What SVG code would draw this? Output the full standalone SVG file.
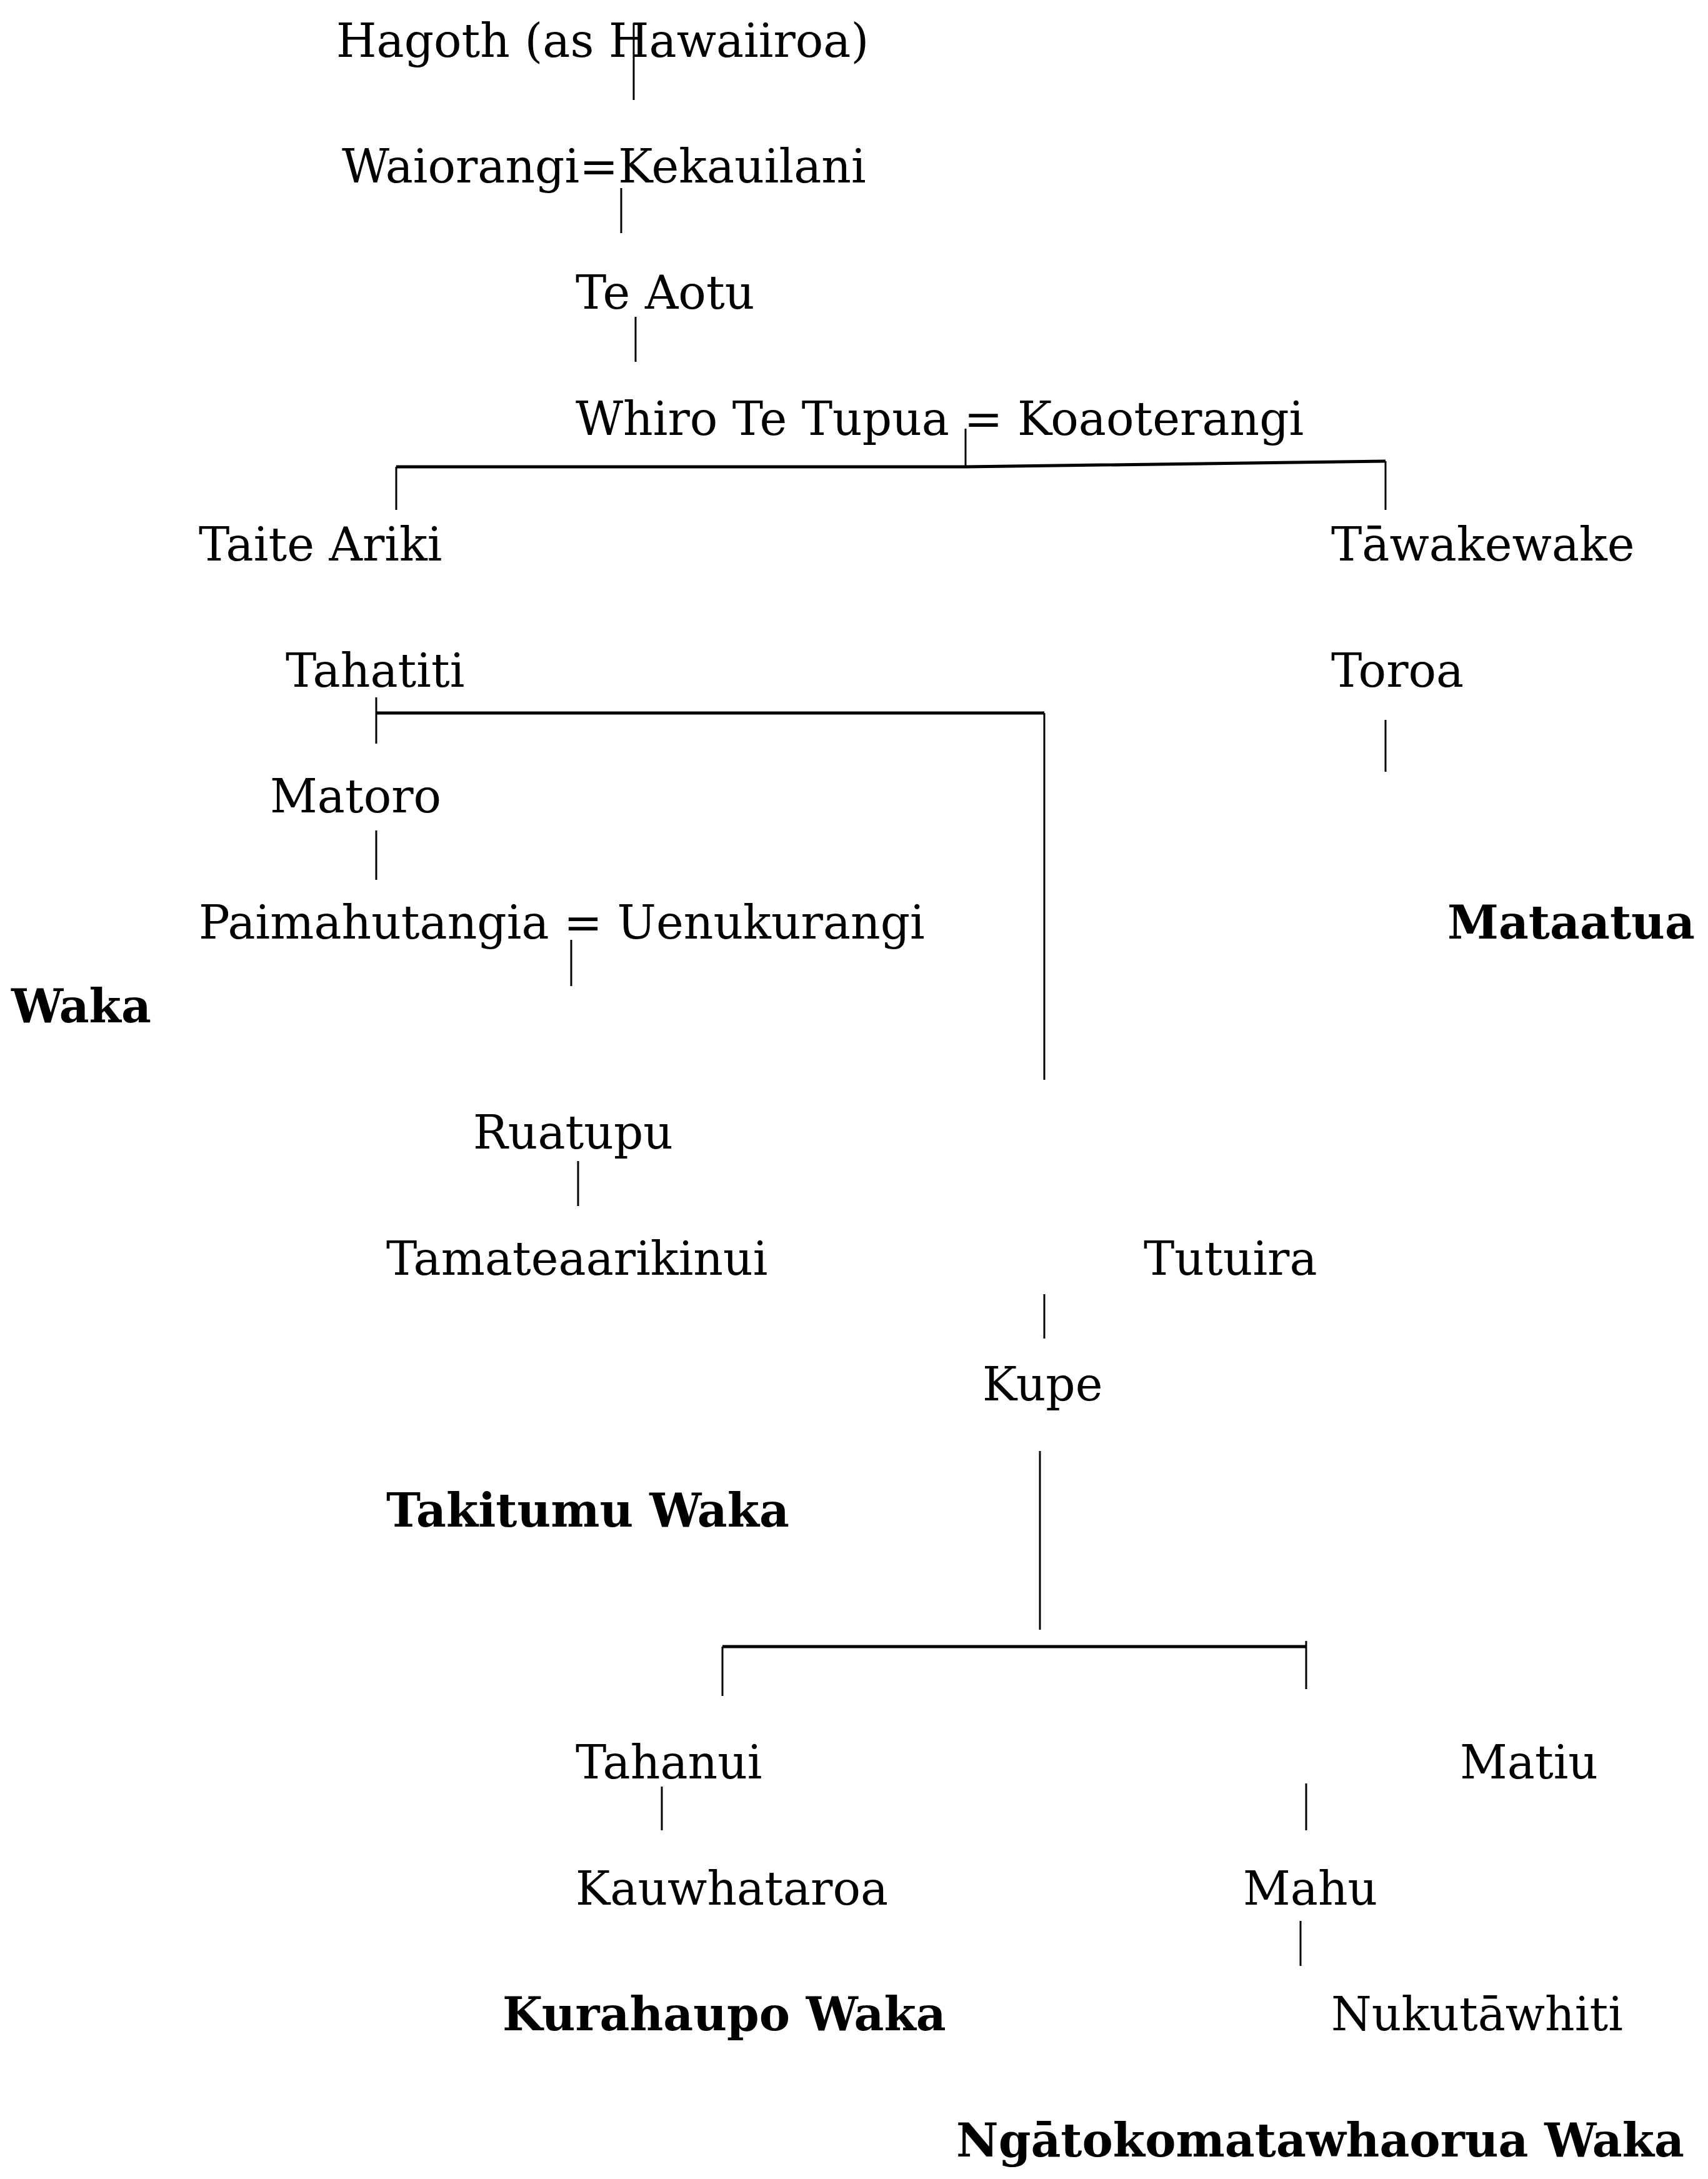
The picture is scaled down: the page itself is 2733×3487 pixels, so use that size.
<svg xmlns="http://www.w3.org/2000/svg" width="2733" height="3487" viewBox="0 0 2733 3487">
<style>
text{font-family:"DejaVu Serif","Liberation Serif",serif;font-size:74px;fill:#000}
.b{font-weight:bold}
.c line,.c polyline{stroke:#000;stroke-width:3;fill:none}
.c .h{stroke-width:5}
</style>
<rect width="2733" height="3487" fill="#fff"/>
<g class="c" id="connectors" transform="translate(-7,-8)">
<line x1="1021" y1="45" x2="1021" y2="168"/>
<line x1="1001" y1="309" x2="1001" y2="381"/>
<line x1="1024" y1="515" x2="1024" y2="587"/>
<line x1="1552" y1="694" x2="1552" y2="753"/>
<polyline class="h" points="641,755 1552,755 2224,746"/>
<line x1="641" y1="755" x2="641" y2="824"/>
<line x1="2224" y1="746" x2="2224" y2="824"/>
<line x1="609" y1="1124" x2="609" y2="1198"/>
<polyline class="h" points="609,1149 1678,1149"/>
<line x1="1678" y1="1149" x2="1678" y2="1736"/>
<line x1="2224" y1="1160" x2="2224" y2="1243"/>
<line x1="609" y1="1337" x2="609" y2="1416"/>
<line x1="921" y1="1512" x2="921" y2="1586"/>
<line x1="932" y1="1866" x2="932" y2="1938"/>
<line x1="1678" y1="2079" x2="1678" y2="2150"/>
<line x1="1671" y1="2330" x2="1671" y2="2616"/>
<polyline class="h" points="1163,2643 2097,2643"/>
<line x1="1163" y1="2643" x2="1163" y2="2722"/>
<line x1="2097" y1="2634" x2="2097" y2="2711"/>
<line x1="1066" y1="2867" x2="1066" y2="2937"/>
<line x1="2097" y1="2862" x2="2097" y2="2937"/>
<line x1="2088" y1="3082" x2="2088" y2="3154"/>
</g>
<g transform="translate(0,-10)">
<g id="n1"><text x="538" y="101">Hagoth (as Hawaiiroa)</text></g>
<g id="n2"><text x="547" y="302">Waiorangi=Kekauilani</text></g>
<g id="n3"><text x="921" y="504">Te Aotu</text></g>
<g id="n4"><text x="921" y="706">Whiro Te Tupua = Koaoterangi</text></g>
<g id="n5"><text x="318" y="907">Taite Ariki</text></g>
<g id="n6"><text x="2130" y="907">Tāwakewake</text></g>
<g id="n7"><text x="457" y="1109">Tahatiti</text></g>
<g id="n8"><text x="2130" y="1109">Toroa</text></g>
<g id="n9"><text x="432" y="1310">Matoro</text></g>
<g id="n10"><text x="318" y="1512">Paimahutangia = Uenukurangi</text></g>
<g id="n11"><text class="b" x="2316" y="1512">Mataatua</text></g>
<g id="n12"><text class="b" x="18" y="1646">Waka</text></g>
<g id="n13"><text x="757" y="1848">Ruatupu</text></g>
<g id="n14"><text x="618" y="2050">Tamateaarikinui</text></g>
<g id="n15"><text x="1830" y="2050">Tutuira</text></g>
<g id="n16"><text x="1572" y="2251">Kupe</text></g>
<g id="n17"><text class="b" x="618" y="2453">Takitumu Waka</text></g>
<g id="n18"><text x="921" y="2856">Tahanui</text></g>
<g id="n19"><text x="2336" y="2856">Matiu</text></g>
<g id="n20"><text x="921" y="3058">Kauwhataroa</text></g>
<g id="n21"><text x="1989" y="3058">Mahu</text></g>
<g id="n22"><text class="b" x="804" y="3259">Kurahaupo Waka</text></g>
<g id="n23"><text x="2130" y="3259">Nukutāwhiti</text></g>
<g id="n24"><text class="b" x="1530" y="3461">Ngātokomatawhaorua Waka</text></g>
</g>
</svg>
